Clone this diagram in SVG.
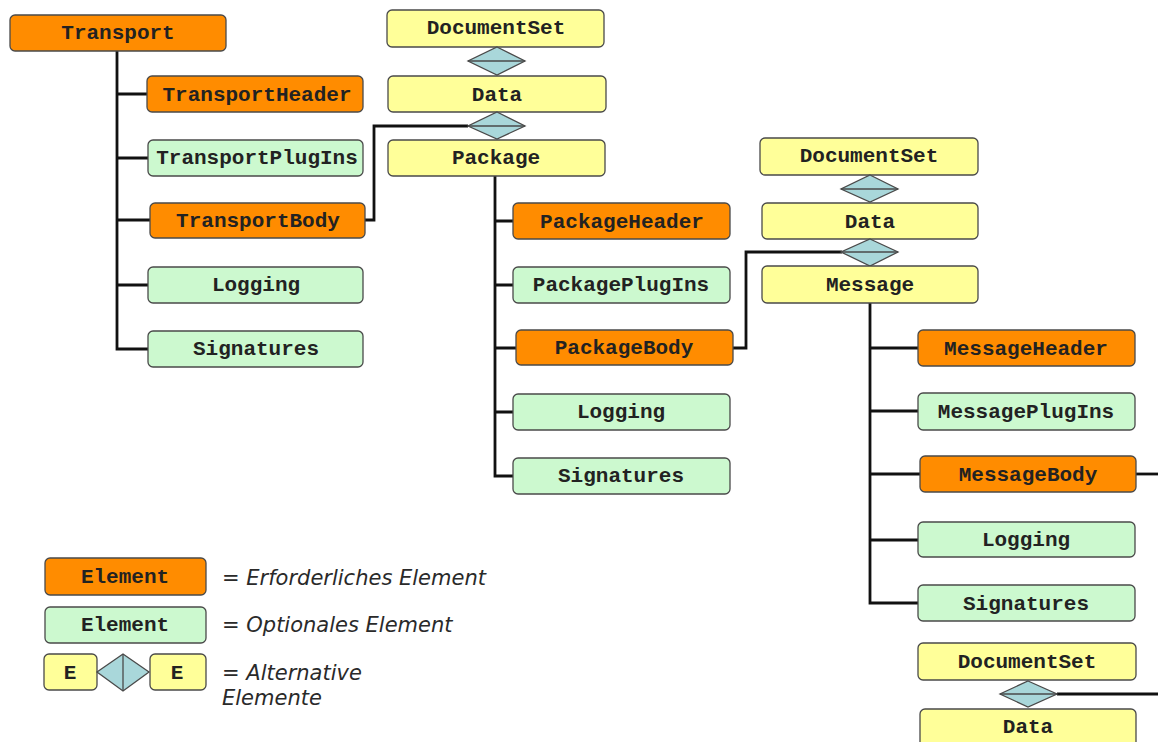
<svg xmlns="http://www.w3.org/2000/svg" width="1158" height="742" viewBox="0 0 1158 742">
<style>
.n{stroke:#4a4a4a;stroke-width:1.3}
.req{fill:#ff8c00}
.opt{fill:#ccf9cf}
.alt{fill:#ffff99}
.t{font-family:"Liberation Mono","Courier New",monospace;font-weight:bold;font-size:21px;fill:#222;text-anchor:middle}
.c{fill:none;stroke:#111;stroke-width:2.8}
.d{fill:#a9d7da;stroke:#4a4a4a;stroke-width:1.3}
.dl{stroke:#4a4a4a;stroke-width:1.3}
.lg{font-family:"DejaVu Sans",Verdana,sans-serif;font-style:italic;font-size:21px;fill:#2a2a2a}
</style>
<rect width="1158" height="742" fill="#fff"/>
<g id="connectors">
<path class="c" d="M117 51 V349 H148 M117 94 H147 M117 158 H148 M117 220 H150 M117 285 H148"/>
<path class="c" d="M365 220 H374 V126 H468"/>
<path class="c" d="M495 176 V476 H513 M495 221 H513 M495 285 H513 M495 348 H516 M495 412 H513"/>
<path class="c" d="M733 348 H746 V252 H842"/>
<path class="c" d="M870 303 V603 H918 M870 348 H918 M870 411 H918 M870 474 H920 M870 540 H918"/>
<path class="c" d="M1136 474 H1158"/>
<path class="c" d="M1057 694 H1158"/>
</g>
<g id="transport"><rect class="n req" x="10" y="15" width="216" height="36" rx="5"/><text class="t" x="118" y="39">Transport</text></g>
<g id="transportHeader"><rect class="n req" x="147" y="76" width="216" height="36" rx="5"/><text class="t" x="257" y="101">TransportHeader</text></g>
<g id="transportPlugIns"><rect class="n opt" x="148" y="140" width="215" height="36" rx="5"/><text class="t" x="257" y="164">TransportPlugIns</text></g>
<g id="transportBody"><rect class="n req" x="150" y="203" width="215" height="35" rx="5"/><text class="t" x="258" y="227">TransportBody</text></g>
<g id="transportLogging"><rect class="n opt" x="148" y="267" width="215" height="36" rx="5"/><text class="t" x="256" y="291">Logging</text></g>
<g id="transportSignatures"><rect class="n opt" x="148" y="331" width="215" height="36" rx="5"/><text class="t" x="256" y="355">Signatures</text></g>

<g id="documentSet1"><rect class="n alt" x="387" y="10" width="217" height="37" rx="5"/><text class="t" x="496" y="34">DocumentSet</text></g>
<g id="diamond1"><polygon class="d" points="497,47 525,61 497,75 468,61"/><line class="dl" x1="468" y1="61" x2="525" y2="61"/></g>
<g id="data1"><rect class="n alt" x="388" y="76" width="218" height="36" rx="5"/><text class="t" x="497" y="101">Data</text></g>
<g id="diamond2"><polygon class="d" points="497,112 525,126 497,139 468,126"/><line class="dl" x1="468" y1="126" x2="525" y2="126"/></g>
<g id="package"><rect class="n alt" x="388" y="140" width="217" height="36" rx="5"/><text class="t" x="496" y="164">Package</text></g>
<g id="packageHeader"><rect class="n req" x="513" y="203" width="217" height="36" rx="5"/><text class="t" x="622" y="228">PackageHeader</text></g>
<g id="packagePlugIns"><rect class="n opt" x="513" y="267" width="217" height="36" rx="5"/><text class="t" x="621" y="291">PackagePlugIns</text></g>
<g id="packageBody"><rect class="n req" x="516" y="330" width="217" height="35" rx="5"/><text class="t" x="624" y="354">PackageBody</text></g>
<g id="packageLogging"><rect class="n opt" x="513" y="394" width="217" height="36" rx="5"/><text class="t" x="621" y="418">Logging</text></g>
<g id="packageSignatures"><rect class="n opt" x="513" y="458" width="217" height="36" rx="5"/><text class="t" x="621" y="482">Signatures</text></g>

<g id="documentSet2"><rect class="n alt" x="760" y="138" width="218" height="37" rx="5"/><text class="t" x="869" y="162">DocumentSet</text></g>
<g id="diamond3"><polygon class="d" points="870,175 898,189 870,202 841,189"/><line class="dl" x1="841" y1="189" x2="898" y2="189"/></g>
<g id="data2"><rect class="n alt" x="762" y="203" width="216" height="36" rx="5"/><text class="t" x="870" y="228">Data</text></g>
<g id="diamond4"><polygon class="d" points="870,239 898,252 870,266 841,252"/><line class="dl" x1="841" y1="252" x2="898" y2="252"/></g>
<g id="message"><rect class="n alt" x="762" y="266" width="216" height="37" rx="5"/><text class="t" x="870" y="291">Message</text></g>
<g id="messageHeader"><rect class="n req" x="918" y="330" width="217" height="36" rx="5"/><text class="t" x="1026" y="355">MessageHeader</text></g>
<g id="messagePlugIns"><rect class="n opt" x="918" y="393" width="217" height="37" rx="5"/><text class="t" x="1026" y="418">MessagePlugIns</text></g>
<g id="messageBody"><rect class="n req" x="920" y="456" width="216" height="36" rx="5"/><text class="t" x="1028" y="481">MessageBody</text></g>
<g id="messageLogging"><rect class="n opt" x="918" y="522" width="217" height="35" rx="5"/><text class="t" x="1026" y="546">Logging</text></g>
<g id="messageSignatures"><rect class="n opt" x="918" y="585" width="217" height="36" rx="5"/><text class="t" x="1026" y="610">Signatures</text></g>
<g id="documentSet3"><rect class="n alt" x="918" y="643" width="218" height="37" rx="5"/><text class="t" x="1027" y="668">DocumentSet</text></g>
<g id="diamond5"><polygon class="d" points="1028,681 1057,694 1028,707 1000,694"/><line class="dl" x1="1000" y1="694" x2="1057" y2="694"/></g>
<g id="data3"><rect class="n alt" x="920" y="709" width="216" height="40" rx="5"/><text class="t" x="1028" y="733">Data</text></g>

<g id="legend">
<rect class="n req" x="45" y="558" width="161" height="37" rx="5"/><text class="t" x="125" y="583">Element</text>
<text class="lg" x="222" y="585">= Erforderliches Element</text>
<rect class="n opt" x="45" y="607" width="161" height="36" rx="5"/><text class="t" x="125" y="631">Element</text>
<text class="lg" x="222" y="632">= Optionales Element</text>
<rect class="n alt" x="44" y="654" width="53" height="36" rx="5"/><text class="t" x="70" y="679">E</text>
<polygon class="d" points="123,654 149,672 123,691 97,672"/><line class="dl" x1="123" y1="654" x2="123" y2="691"/>
<rect class="n alt" x="150" y="654" width="56" height="36" rx="5"/><text class="t" x="177" y="679">E</text>
<text class="lg" x="222" y="680">= Alternative</text>
<text class="lg" x="222" y="705">Elemente</text>
</g>
</svg>
